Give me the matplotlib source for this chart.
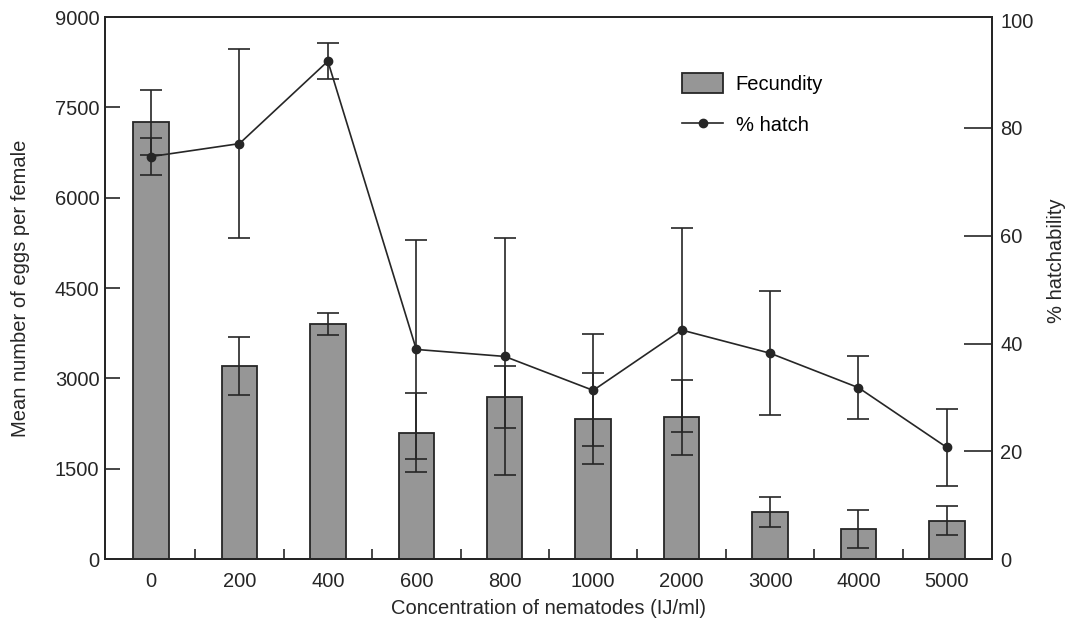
#! /usr/bin/env python3

import matplotlib
matplotlib.use("Agg")
import matplotlib.pyplot as plt
from matplotlib.lines import Line2D
import numpy as np

# concentration of nematodes (IJ/ml)
concentrations = ["0", "200", "400", "600", "800", "1000", "2000", "3000", "4000", "5000"]

# fecundity: mean eggs per female and error
fecundity = [7250, 3200, 3900, 2100, 2690, 2330, 2350, 780, 500, 635]
fecundity_err = [540, 480, 180, 660, 510, 760, 620, 250, 310, 240]

# % hatch and error
hatch = [74.7, 77.1, 92.4, 38.9, 37.6, 31.3, 42.5, 38.2, 31.8, 20.7]
hatch_err = [3.5, 17.5, 3.3, 20.3, 22.0, 10.4, 19.0, 11.5, 5.9, 7.2]

plt.rcParams["font.family"] = ["Liberation Sans", "DejaVu Sans"]
plt.rcParams["font.size"] = 14.5

ink = "#262626"
x = np.arange(len(concentrations))

fig = plt.figure(figsize=(10.66, 6.23), dpi=100)
ax = fig.add_axes([0.0985, 0.1027, 0.8321, 0.870])

bars = ax.bar(x, fecundity, width=0.40, color="#969696", edgecolor=ink,
              linewidth=1.3, label="Fecundity", zorder=2)
ax.errorbar(x, fecundity, yerr=fecundity_err, fmt="none", ecolor=ink,
            elinewidth=1.2, capsize=8, capthick=1.2, zorder=3)

ax.set_xlim(-0.52, 9.51)
ax.set_ylim(0, 9000)
ax.set_yticks(np.arange(0, 9001, 1500))
ax.set_xticks(x)
ax.set_xticklabels(concentrations)
ax.set_xticks(x[:-1] + 0.5, minor=True)
ax.tick_params(axis="x", which="major", length=0, pad=9, colors=ink)
ax.tick_params(axis="x", which="minor", direction="in", length=7, width=1.2, color=ink)
ax.tick_params(axis="y", direction="in", length=11, width=1.2, pad=4, colors=ink)
ax.set_xlabel("Concentration of nematodes (IJ/ml)", color=ink, labelpad=6)
ax.set_ylabel("Mean number of eggs per female", color=ink)
ax.yaxis.set_label_coords(-0.085, 0.5)

ax2 = ax.twinx()
ax2.errorbar(x, hatch, yerr=hatch_err, fmt="-o", color=ink,
             linewidth=1.2, markersize=6, ecolor=ink, elinewidth=1.2,
             capsize=8, capthick=1.2, zorder=4)
ax2.set_ylim(0, 100.6)
ax2.set_yticks(np.arange(0, 101, 20))
ax2.tick_params(axis="y", direction="in", length=20, width=1.2, pad=6, colors=ink)
ax2.yaxis.get_major_ticks()[-1].tick2line.set_visible(False)
ax2.set_ylabel("% hatchability", color=ink)
ax2.yaxis.set_label_coords(1.062, 0.55)

for a in (ax, ax2):
    for s in a.spines.values():
        s.set_linewidth(1.4)
        s.set_color(ink)

hatch_handle = Line2D([], [], color=ink, linewidth=1.2, marker="o", markersize=6)
ax2.legend([bars, hatch_handle], ["Fecundity", "% hatch"], loc="upper left",
           bbox_to_anchor=(0.651, 0.897), frameon=False, borderaxespad=0,
           borderpad=0, handlelength=2.0, handleheight=1.2, labelspacing=1.0,
           handletextpad=0.65)

fig.savefig("out.png")
plt.close(fig)
